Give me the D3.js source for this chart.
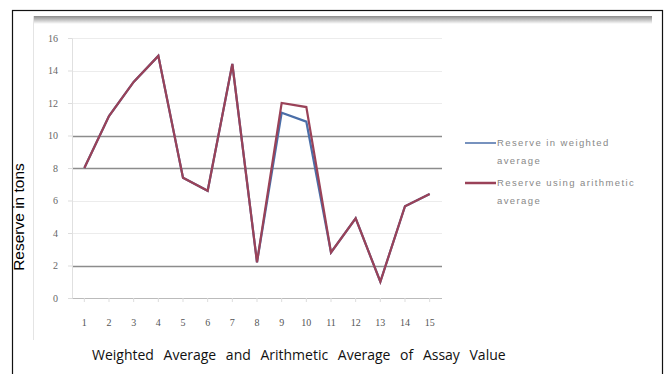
<!DOCTYPE html>
<html>
<head>
<meta charset="utf-8">
<script src="https://cdn.jsdelivr.net/npm/d3@7"></script>
<style>
  html, body { margin: 0; padding: 0; background: #fff; }
  svg { display: block; }
</style>
</head>
<body>
<svg id="chart" width="669" height="374"></svg>
<script>
// Sample numbers along the x axis
const categories = ["1","2","3","4","5","6","7","8","9","10","11","12","13","14","15"];
// Reserve (tons) computed with each averaging method
const weightedReserve   = [8.0, 11.2, 13.3, 14.9, 7.4, 6.6, 14.4, 2.2, 11.4, 10.85, 2.8, 4.9, 1.0, 5.65, 6.4];
const arithmeticReserve = [8.0, 11.2, 13.3, 14.9, 7.4, 6.6, 14.4, 2.2, 12.0, 11.75, 2.8, 4.9, 1.0, 5.65, 6.4];
const seriesNames = ["Reserve in weighted average", "Reserve using arithmetic average"];
const yTicks = [0, 2, 4, 6, 8, 10, 12, 14, 16];
const strongGrid = [2, 8, 10];
const yTitle = "Reserve in tons";
const xTitle = "Weighted Average and Arithmetic Average of Assay Value";

const svg = d3.select("#chart");

// Outer frame
svg.append("rect").attr("x", 12.5).attr("y", 10.5).attr("width", 650).attr("height", 380)
  .attr("fill", "#fff").attr("stroke", "#111").attr("stroke-width", 1.2);

// Inner chart area with a soft shaded top edge
const defs = svg.append("defs");
const grad = defs.append("linearGradient").attr("id", "topShade").attr("x1", 0).attr("y1", 0).attr("x2", 0).attr("y2", 1);
grad.append("stop").attr("offset", "0").attr("stop-color", "#8a8a8a");
grad.append("stop").attr("offset", "1").attr("stop-color", "#ffffff");
svg.append("rect").attr("x", 33).attr("y", 16).attr("width", 619).attr("height", 8).attr("fill", "url(#topShade)");
svg.append("line").attr("x1", 33.5).attr("x2", 33.5).attr("y1", 16).attr("y2", 340).attr("stroke", "#e4e4e4");

const x = d3.scaleBand().domain(categories).range([72, 442]);
const y = d3.scaleLinear().domain([0, 16]).range([298, 38]);
const cx = d => x(d) + x.bandwidth() / 2;

// Horizontal gridlines
svg.append("g").selectAll("line").data(yTicks).join("line")
  .attr("x1", 72).attr("x2", 442)
  .attr("y1", d => Math.round(y(d)) + 0.5).attr("y2", d => Math.round(y(d)) + 0.5)
  .attr("stroke", d => d === 0 ? "#bbb" : (strongGrid.includes(d) ? "#8c8c8c" : "#ececec"))
  .attr("stroke-width", d => strongGrid.includes(d) ? 1.6 : 1.2);

// Y axis
const yAxis = svg.append("g").attr("transform", "translate(72,0)")
  .call(d3.axisLeft(y).tickValues(yTicks).tickSize(4).tickPadding(10));
yAxis.select(".domain").attr("stroke", "#e0e0e0");
yAxis.selectAll(".tick line").attr("stroke", "#ddd");
yAxis.selectAll("text").attr("fill", "#666").attr("font-family", "Liberation Serif, serif").attr("font-size", 10);

// X axis
const xAxis = svg.append("g").attr("transform", "translate(0,298)")
  .call(d3.axisBottom(x).tickSize(4).tickPadding(17));
xAxis.select(".domain").remove();
xAxis.selectAll(".tick line").attr("stroke", "#ddd");
xAxis.selectAll("text").attr("fill", "#555").attr("font-family", "Liberation Serif, serif").attr("font-size", 10);

// Series lines
const line = d3.line().x((d, i) => cx(categories[i])).y(d => y(d));
const colors = ["#4a6ea8", "#9a4258"];
[weightedReserve, arithmeticReserve].forEach((vals, k) => {
  svg.append("path").datum(vals).attr("d", line)
    .attr("fill", "none").attr("stroke", colors[k]).attr("stroke-width", 2.2)
    .attr("stroke-linejoin", "miter");
});

// Legend
const legendRows = [[seriesNames[0], 143], [seriesNames[1], 183]];
legendRows.forEach(([name, ly], k) => {
  svg.append("line").attr("x1", 465).attr("x2", 496).attr("y1", ly).attr("y2", ly)
    .attr("stroke", colors[k]).attr("stroke-width", k === 0 ? 1.5 : 2.5);
  const words = name.split(" ");
  const t = svg.append("text").attr("font-family", "Liberation Sans, sans-serif").attr("font-size", 9.5)
    .attr("letter-spacing", 1.4).attr("fill", "#888");
  t.append("tspan").attr("x", 497).attr("y", ly + 3).text(words.slice(0, -1).join(" "));
  t.append("tspan").attr("x", 497).attr("y", ly + 21).text(words[words.length - 1]);
});

// Axis titles
svg.append("text").attr("transform", "translate(24,217) rotate(-90)")
  .attr("text-anchor", "middle").attr("font-family", "Liberation Sans, Arial, sans-serif")
  .attr("font-size", 15.5).attr("fill", "#000").text(yTitle);
svg.append("text").attr("x", 92).attr("y", 360).attr("text-anchor", "start")
  .attr("font-family", "Open Sans, sans-serif").attr("font-size", 14).attr("word-spacing", 6)
  .attr("fill", "#111").text(xTitle);
</script>
</body>
</html>
